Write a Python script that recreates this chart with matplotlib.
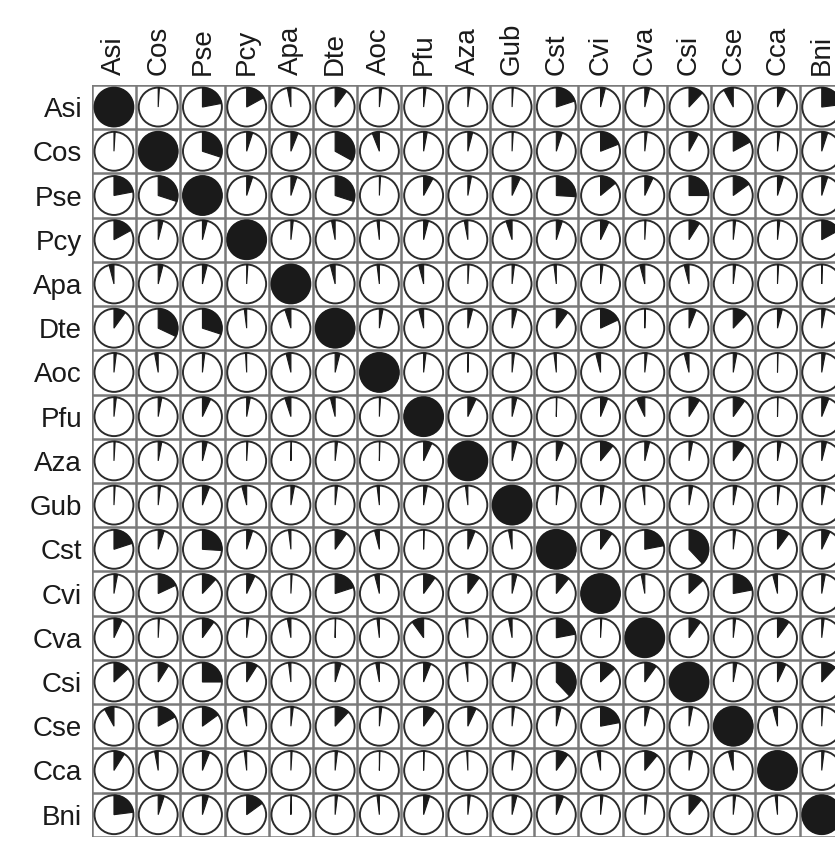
import numpy as np
import matplotlib
matplotlib.use("Agg")
from matplotlib import pyplot as plt
from matplotlib.patches import Wedge, Circle

species = ["Asi", "Cos", "Pse", "Pcy", "Apa", "Dte", "Aoc", "Pfu", "Aza",
           "Gub", "Cst", "Cvi", "Cva", "Csi", "Cse", "Cca", "Bni"]

# correlation per row (positive = clockwise, negative = counter-clockwise)
asi = [1, 0.01, 0.22, 0.17, -0.03, 0.10, 0.02, 0.02, 0.02, 0.01, 0.20, 0.04, 0.04, 0.12, -0.08, 0.07, 0.23]
cos = [0.01, 1, 0.30, 0.05, 0.06, 0.33, -0.06, 0.03, 0.04, 0.01, 0.05, 0.19, 0.02, 0.08, 0.17, 0.02, 0.05]
pse = [0.22, 0.30, 1, 0.05, 0.05, 0.30, 0.01, 0.08, 0.03, 0.07, 0.26, 0.14, 0.07, 0.25, 0.15, 0.05, 0.05]
pcy = [0.17, 0.04, 0.04, 1, 0.02, -0.03, -0.02, 0.04, -0.03, -0.05, 0.05, 0.07, 0.01, 0.09, 0.02, 0.02, 0.17]
apa = [-0.04, 0.04, 0.04, 0.01, 1, -0.04, -0.02, -0.04, 0.01, 0.02, -0.02, 0.02, -0.04, -0.04, 0.02, 0.01, 0.005]
dte = [0.10, 0.32, 0.30, -0.02, -0.05, 1, 0.03, -0.04, 0.04, 0.04, 0.10, 0.18, 0.005, 0.06, 0.12, 0.04, 0.03]
aoc = [0.02, -0.03, 0.02, -0.01, -0.04, 0.04, 1, 0.02, 0.005, 0.02, -0.02, -0.04, 0.02, -0.04, 0.03, 0.005, 0.03]
pfu = [0.02, 0.03, 0.07, 0.03, -0.05, -0.04, 0.01, 1, 0.07, 0.04, 0.005, 0.06, -0.07, 0.09, 0.10, 0.005, 0.06]
aza = [0.01, 0.03, 0.04, 0.01, 0.005, 0.02, 0.005, 0.07, 1, 0.04, 0.06, 0.11, 0.04, 0.03, 0.10, 0.03, 0.04]
gub = [0.01, 0.02, 0.06, -0.04, 0.03, 0.02, -0.02, 0.03, -0.02, 1, 0.02, 0.03, -0.02, 0.03, 0.03, 0.02, 0.03]
cst = [0.20, 0.05, 0.26, 0.05, -0.02, 0.10, -0.04, 0.005, 0.06, -0.03, 1, 0.10, 0.22, 0.38, 0.02, 0.10, 0.07]
cvi = [0.03, 0.18, 0.12, 0.07, 0.01, 0.20, -0.04, 0.10, 0.10, 0.04, 0.11, 1, -0.03, 0.13, 0.22, -0.04, 0.03]
cva = [0.07, 0.01, 0.10, 0.02, -0.03, 0.005, -0.02, -0.10, -0.02, -0.03, 0.22, 0.01, 1, 0.10, 0.02, 0.10, 0.02]
csi = [0.13, 0.09, 0.25, 0.09, -0.02, 0.05, -0.03, 0.06, -0.02, 0.03, 0.38, 0.13, 0.10, 1, 0.03, 0.07, 0.12]
cse = [-0.08, 0.17, 0.15, -0.03, 0.02, 0.12, 0.02, 0.10, 0.07, 0.02, 0.04, 0.22, 0.04, 0.03, 1, -0.04, 0.01]
cca = [0.09, -0.03, 0.06, -0.02, 0.01, 0.02, 0.005, 0.005, -0.01, 0.02, 0.10, -0.03, 0.11, 0.03, -0.04, 1, 0.02]
bni = [0.23, 0.05, 0.05, 0.15, 0.005, 0.02, -0.02, 0.05, 0.02, 0.04, 0.06, 0.02, 0.02, 0.11, 0.02, -0.02, 1]

corr = np.array([asi, cos, pse, pcy, apa, dte, aoc, pfu, aza,
                 gub, cst, cvi, cva, csi, cse, cca, bni])

n = len(species)
fig = plt.figure(figsize=(8.35, 8.41), dpi=100)
ax = fig.add_axes([0.110, 0.005, 0.9006, 0.894])

r = 0.44
for i in range(n):
    for j in range(n):
        cx, cy = j + 0.5, i + 0.5
        v = corr[i, j]
        ax.add_patch(Circle((cx, cy), r, facecolor="white", edgecolor="#2b2b2b", lw=1.4))
        if abs(v) >= 0.999:
            ax.add_patch(Circle((cx, cy), r, facecolor="#1a1a1a", edgecolor="#1a1a1a", lw=0.8))
            continue
        ang = 360 * abs(v)
        # y axis is inverted, so angles run mirrored: 270 is 12 o'clock
        if v >= 0:
            w = Wedge((cx, cy), r, 270, 270 + ang)
        else:
            w = Wedge((cx, cy), r, 270 - ang, 270)
        w.set_facecolor("#1a1a1a")
        w.set_edgecolor("#1a1a1a")
        w.set_linewidth(0.8)
        ax.add_patch(w)

ax.set_xlim(0, n)
ax.set_ylim(n, 0)
ax.set_aspect("auto")

# cell grid
for k in range(n + 1):
    ax.axhline(k, color="#7a7a7a", lw=1.8, zorder=0)
    ax.axvline(k, color="#7a7a7a", lw=1.8, zorder=0)

ax.set_xticks(np.arange(n) + 0.5)
ax.set_yticks(np.arange(n) + 0.5)
ax.set_xticklabels(species, rotation=90, fontsize=20, family="Liberation Sans", color="#1a1a1a")
ax.set_yticklabels(species, fontsize=20, family="Liberation Sans", color="#1a1a1a")
ax.xaxis.tick_top()
ax.tick_params(length=0, pad=7)
for s in ax.spines.values():
    s.set_visible(False)

fig.savefig("out.png", dpi=100)
